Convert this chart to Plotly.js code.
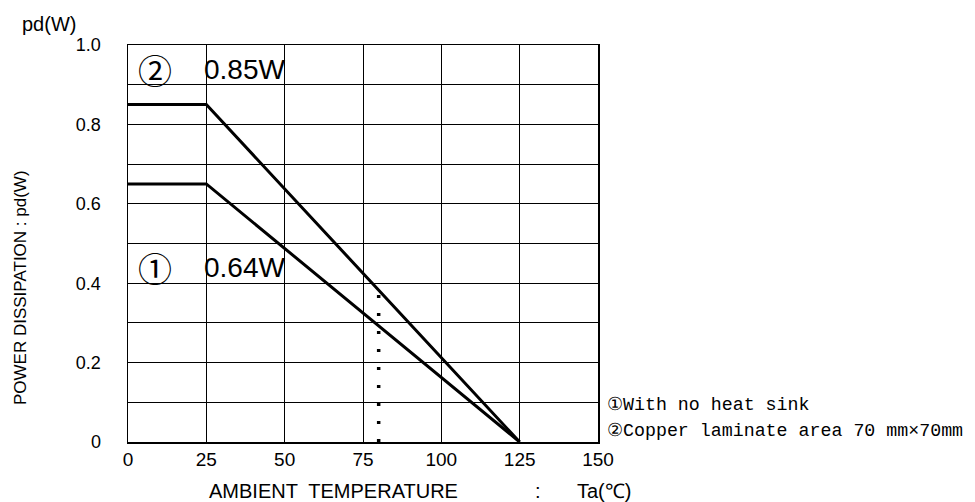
<!DOCTYPE html>
<html>
<head>
<meta charset="utf-8">
<script src="https://cdn.plot.ly/plotly-3.0.1.min.js"></script>
<style>html,body{margin:0;padding:0;background:#fff;}#chart{width:975px;height:502px;}</style>
</head>
<body>
<div id="chart"></div>
<script>
// ---- data ----
const tempC = [0, 25, 125];
const pdCopper = [0.85, 0.85, 0];     // (2) copper laminate 70mm x 70mm
const pdNoSink = [0.65, 0.65, 0];     // (1) with no heat sink
const markerTemp = [80, 80];
const markerPd = [0, 0.37];
const xTickVals = [0, 25, 50, 75, 100, 125, 150];
const xTickText = ['0', '25', '50', '75', '100', '125', '150'];
const yTickVals = [0, 0.1, 0.2, 0.3, 0.4, 0.5, 0.6, 0.7, 0.8, 0.9, 1.0];
const yTickText = ['0', '', '0.2', '', '0.4', '', '0.6', '', '0.8', '', '1.0'];
const label1 = '①';
const label1Val = '0.64W';
const label2 = '②';
const label2Val = '0.85W';
const note1 = '①With no heat sink';
const note2 = '②Copper laminate area 70 mm×70mm';

// ---- layout helpers (pixel -> paper) ----
const L = 128, R = 598, T = 45, B = 442;
const px = x => (x - L) / (R - L);
const py = y => (B - y) / (B - T);
const sans = 'Arial, "Liberation Sans", sans-serif';
const mono = '"Liberation Mono", "DejaVu Sans Mono", monospace';
const cjk = '"Noto Sans CJK JP", sans-serif';

const traces = [
  {x: tempC, y: pdCopper, mode: 'lines', line: {color: '#000', width: 3}, hoverinfo: 'skip'},
  {x: tempC, y: pdNoSink, mode: 'lines', line: {color: '#000', width: 3}, hoverinfo: 'skip'},
  {x: markerTemp, y: markerPd, mode: 'lines', line: {color: '#000', width: 3.5, dash: '3px,15px'}, hoverinfo: 'skip'}
];

const ann = (text, x, y, size, family, opts) => Object.assign({
  text: text, x: x, y: y, xref: 'paper', yref: 'paper', showarrow: false,
  xanchor: 'center', yanchor: 'middle',
  font: {family: family || sans, size: size || 19, color: '#000'}
}, opts || {});

const layout = {
  width: 975, height: 502,
  margin: {l: L, r: 975 - R, t: T, b: 502 - B},
  paper_bgcolor: '#fff', plot_bgcolor: '#fff',
  showlegend: false,
  font: {family: sans, size: 19, color: '#000'},
  xaxis: {
    range: [0, 150], tickmode: 'array', tickvals: xTickVals, ticktext: xTickText,
    showgrid: true, gridcolor: '#000', gridwidth: 1, zeroline: false,
    showline: true, linecolor: '#000', linewidth: 1.5, mirror: true,
    ticks: '', ticklabelstandoff: 0, tickfont: {family: sans, size: 19, color: '#000'},
    fixedrange: true
  },
  yaxis: {
    range: [0, 1.0], tickmode: 'array', tickvals: yTickVals, ticktext: yTickText,
    showgrid: true, gridcolor: '#000', gridwidth: 1, zeroline: false,
    showline: true, linecolor: '#000', linewidth: 1.5, mirror: true,
    ticks: '', ticklabelstandoff: 22, tickfont: {family: sans, size: 18, color: '#000'},
    fixedrange: true
  },
  annotations: [
    ann(label2, px(155), py(70), 34, cjk),
    ann(label2Val, px(202), py(70), 28, sans, {xanchor: 'left'}),
    ann(label1, px(155), py(267), 34, cjk),
    ann(label1Val, px(202), py(267), 28, sans, {xanchor: 'left'}),
    ann('pd(W)', px(49), py(24), 20),
    ann('POWER DISSIPATION : pd(W)', px(20), py(288), 17, sans, {textangle: -90}),
    ann('AMBIENT  TEMPERATURE', px(333), py(491), 20),
    ann(':', px(538), py(491), 20),
    ann('Ta(℃)', px(575), py(491), 20, sans, {xanchor: 'left'}),
    ann(note1, px(605), py(405), 18.3, mono, {xanchor: 'left'}),
    ann(note2, px(605), py(431), 18.3, mono, {xanchor: 'left'})
  ]
};

Plotly.newPlot('chart', traces, layout, {displayModeBar: false, staticPlot: true});
</script>
</body>
</html>
